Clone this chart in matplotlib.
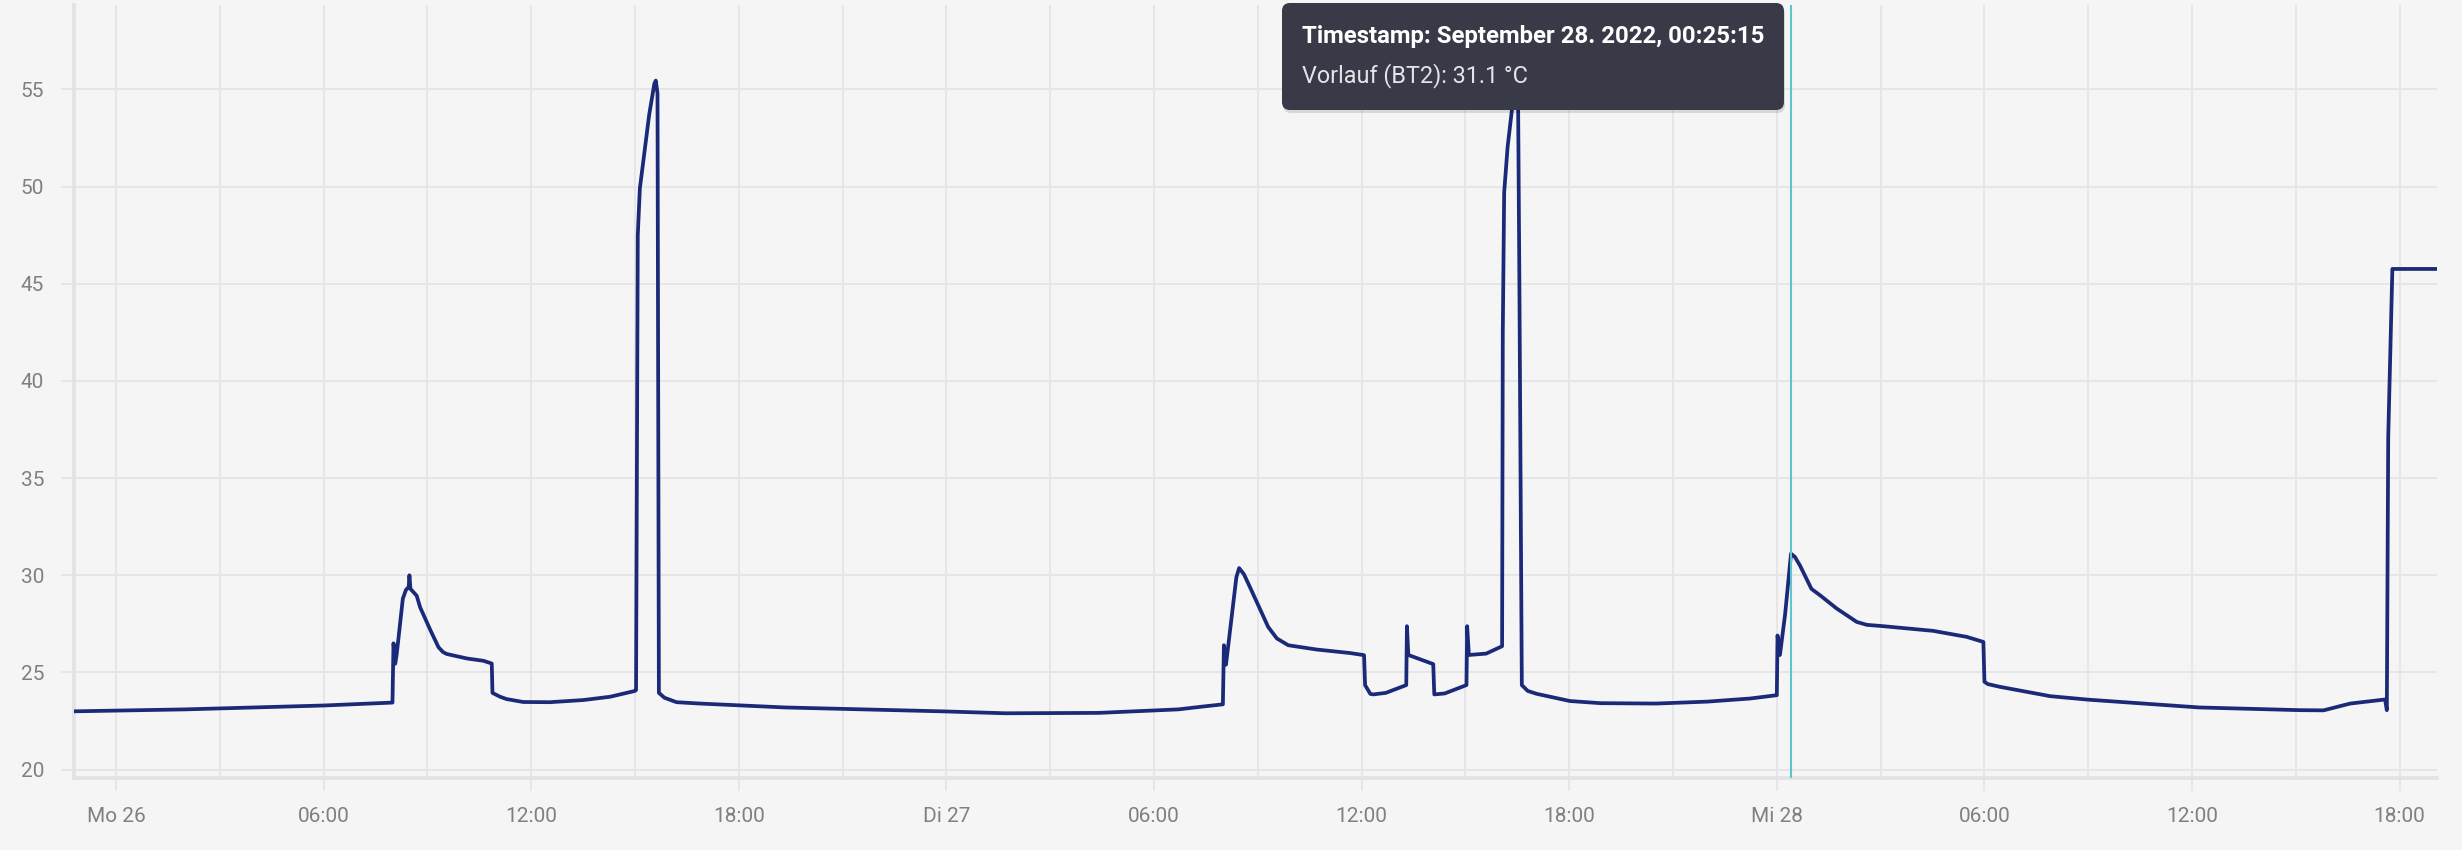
import pandas as pd
import matplotlib
matplotlib.use("Agg")
import matplotlib.pyplot as plt
import matplotlib.dates as mdates
from matplotlib.patches import FancyBboxPatch
from matplotlib.transforms import IdentityTransform

plt.rcParams['font.family'] = ['Roboto', 'DejaVu Sans']

# Vorlauf (BT2) readings, hours counted from Mo 26.09.2022 00:00
start = pd.Timestamp('2022-09-26 00:00')
hours = [-1.22, 2.0, 4.0, 6.0, 7.99, 8.02, 8.07, 8.11, 8.29, 8.38, 8.46, 8.48, 8.51,
         8.69, 8.79, 9.08, 9.32, 9.45, 9.56, 10.14, 10.62, 10.86, 10.88, 11.1, 11.29,
         11.77, 12.54, 13.5, 14.28, 15.0, 15.03, 15.08, 15.14, 15.41, 15.56, 15.6,
         15.65, 15.69, 15.85, 16.0, 16.2, 16.88, 19.33, 23.87, 25.7, 28.4, 30.7,
         31.33, 31.99, 32.02, 32.08, 32.38, 32.46, 32.6, 32.77, 33.3, 33.55, 33.88,
         34.7, 35.66, 36.07, 36.1, 36.25, 36.34, 36.7, 37.29, 37.31, 37.35, 38.07,
         38.1, 38.4, 39.03, 39.05, 39.1, 39.6, 40.06, 40.08, 40.12, 40.22, 40.38,
         40.47, 40.52, 40.56, 40.63, 40.8, 41.06, 42.02, 42.9, 44.5, 46.0, 47.23,
         48.0, 48.02, 48.09, 48.24, 48.41, 48.52, 48.67, 49.0, 49.25, 49.73, 50.31,
         50.6, 51.08, 52.52, 53.49, 53.97, 54.0, 54.1, 54.45, 55.9, 57.0, 60.2,
         63.12, 63.8, 64.57, 65.58, 65.63, 65.67, 65.79, 67.1]
temps = [23.0, 23.1, 23.2, 23.3, 23.45, 26.5, 25.45, 25.9, 28.8, 29.25, 29.4, 30.0, 29.3,
         28.95, 28.35, 27.2, 26.3, 26.05, 25.95, 25.72, 25.6, 25.46, 23.95, 23.75, 23.63,
         23.48, 23.47, 23.58, 23.75, 24.05, 24.1, 47.5, 49.9, 53.7, 55.3, 55.45,
         54.8, 23.95, 23.7, 23.6, 23.47, 23.4, 23.2, 23.0, 22.9, 22.92, 23.1,
         23.23, 23.36, 26.4, 25.4, 29.9, 30.37, 30.05, 29.4, 27.34, 26.75, 26.4,
         26.18, 26.0, 25.89, 24.35, 23.9, 23.87, 23.95, 24.35, 27.38, 25.9, 25.43,
         23.87, 23.92, 24.35, 27.38, 25.9, 25.97, 26.35, 42.5, 49.7, 52.05, 54.5,
         56.0, 55.0, 45.0, 24.35, 24.05, 23.9, 23.53, 23.42, 23.4, 23.5, 23.66,
         23.83, 26.9, 25.9, 28.0, 31.11, 30.95, 30.5, 29.3, 28.97, 28.29, 27.6,
         27.45, 27.38, 27.14, 26.83, 26.57, 24.52, 24.4, 24.26, 23.78, 23.6, 23.2,
         23.06, 23.05, 23.4, 23.61, 23.06, 37.1, 45.76, 45.76]

yticks = [20, 25, 30, 35, 40, 45, 50, 55]
day_names = ['Mo', 'Di', 'Mi', 'Do', 'Fr', 'Sa', 'So']
cursor_time = pd.Timestamp('2022-09-28 00:25:15')
tooltip_title = 'Timestamp: September 28. 2022, 00:25:15'
tooltip_value = 'Vorlauf (BT2): 31.1 °C'

times = start + pd.to_timedelta(hours, unit='h')

bg = '#f5f5f5'
grid_col = '#e5e5e8'
label_col = '#808080'

fig = plt.figure(figsize=(24.62, 8.5), dpi=100, facecolor=bg)
ax = fig.add_axes([74 / 2462, 72 / 850, 2363 / 2462, 773 / 850], facecolor=bg)

ax.plot(times, temps, color='#1b2a78', lw=2.7, solid_joinstyle='round',
        solid_capstyle='round', zorder=3)
ax.axvline(cursor_time, color='#5ec5cc', lw=1.5, zorder=4)

ax.set_xlim(start + pd.Timedelta(hours=-1.214), start + pd.Timedelta(hours=67.08))
ax.set_ylim(19.57, 59.34)
ax.set_yticks(yticks)

ax.xaxis.set_major_locator(mdates.HourLocator(byhour=[0, 6, 12, 18]))
ax.xaxis.set_minor_locator(mdates.HourLocator(byhour=[3, 9, 15, 21]))


def fmt_time(x, pos):
    d = mdates.num2date(x)
    if d.hour == 0:
        return f'{day_names[d.weekday()]} {d.day}'
    return d.strftime('%H:%M')


ax.xaxis.set_major_formatter(plt.FuncFormatter(fmt_time))

ax.grid(True, which='major', color=grid_col, lw=1.3, zorder=0)
ax.grid(True, which='minor', axis='x', color=grid_col, lw=1.3, zorder=0)

for side in ['top', 'right']:
    ax.spines[side].set_visible(False)
for side in ['left', 'bottom']:
    ax.spines[side].set_color('#e2e2e5')
    ax.spines[side].set_linewidth(2.6)

ax.tick_params(axis='x', which='major', length=9, width=1.3, color=grid_col,
               labelsize=15, labelcolor=label_col, pad=12)
ax.tick_params(axis='x', which='minor', length=0)
ax.tick_params(axis='y', length=9.5, width=1.3, color=grid_col,
               labelsize=15, labelcolor=label_col, pad=12)

# tooltip box at the cursor
px = IdentityTransform()
shadow = FancyBboxPatch((1283, 737), 502, 107, boxstyle='round,pad=0,rounding_size=8',
                        transform=px, facecolor='black', edgecolor='none', alpha=0.12,
                        zorder=9)
box = FancyBboxPatch((1282, 740), 502, 107, boxstyle='round,pad=0,rounding_size=8',
                     transform=px, facecolor='#393a48', edgecolor='none', zorder=10)
fig.patches.extend([shadow, box])
fig.text(1302 / 2462, 1 - 36.7 / 850, tooltip_title, color='white', fontsize=17.2,
         fontweight='bold', va='center', zorder=11)
fig.text(1302 / 2462, 1 - 76 / 850, tooltip_value, color='#e4e4e8', fontsize=16.8,
         va='center', zorder=11)

fig.savefig('out.png', dpi=100, facecolor=bg)
